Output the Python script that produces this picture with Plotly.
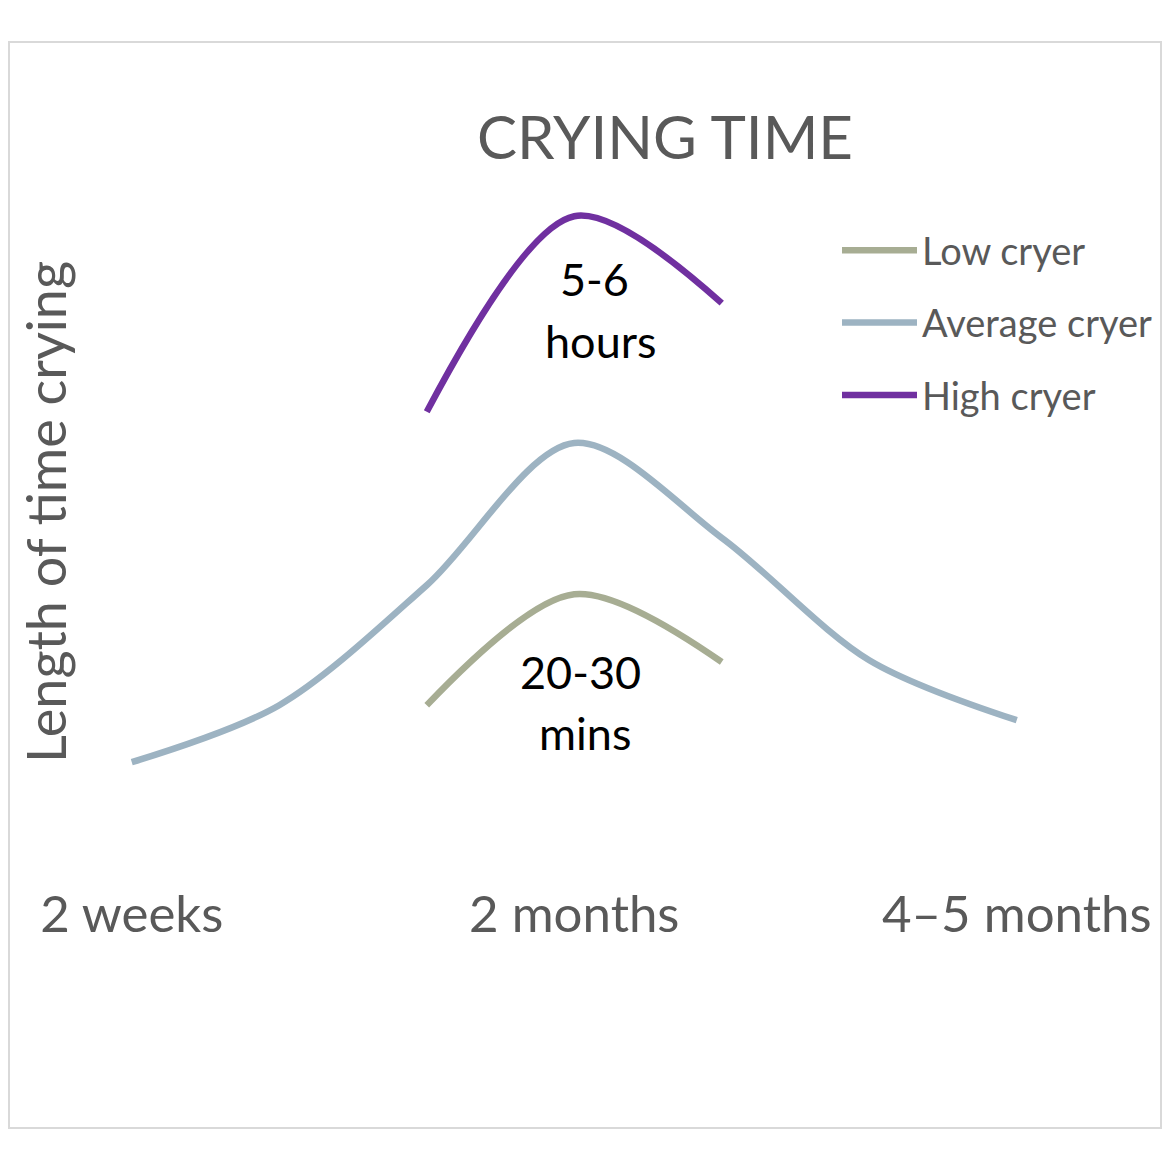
import plotly.graph_objects as go

# ---- data (arbitrary units) ----
x_steps = [0, 1, 2, 3, 4, 5, 6]
tick_positions = [0, 3, 6]
tick_labels = ["2 weeks", "2 months", "4–5 months"]

low_x = [2, 3, 4]
low_y = [1.58, 3.43, 2.30]

avg_x = [0, 1, 2, 3, 4, 5, 6]
avg_y = [0.63, 1.58, 3.58, 5.95, 4.37, 2.33, 1.33]

high_x = [2, 3, 4]
high_y = [6.47, 9.73, 8.28]

series_names = ["Low cryer", "Average cryer", "High cryer"]
series_colors = ["#a7ad93", "#9db3c2", "#7030a0"]

fig = go.Figure()
for name, xs, ys, col in zip(series_names, [low_x, avg_x, high_x], [low_y, avg_y, high_y], series_colors):
    fig.add_trace(go.Scatter(
        x=xs, y=ys, mode="lines", name=name, legendgroup=name,
        line=dict(color=col, width=6.5, shape="spline", smoothing=0.9),
    ))

label_font = dict(family="Lato, sans-serif", size=45, color="#000000")
fig.add_annotation(x=3.14, y=8.68, text="5-6", showarrow=False, font=label_font)
fig.add_annotation(x=3.18, y=7.65, text="hours", showarrow=False, font=label_font)
fig.add_annotation(x=3.04, y=2.14, text="20-30", showarrow=False, font=label_font)
fig.add_annotation(x=3.07, y=1.12, text="mins", showarrow=False, font=label_font)

# figure size chosen so the page (with its 8px body margin) fits the window
FW = FH = 1154
L, T, W, H = 50, 192, 1100, 600
PX_PER_STEP = 147.5
x_lo = -0.5
x_hi = x_lo + W / PX_PER_STEP

# y-axis title (rotated)
fig.add_annotation(xref="paper", yref="paper", x=(37 - L) / W, y=(T + H - 504) / H,
                   text="Length of time crying", textangle=-90, showarrow=False,
                   xanchor="center", yanchor="middle",
                   font=dict(family="Lato, sans-serif", size=54, color="#595959"))

# outer frame
fig.add_shape(type="rect", xref="paper", yref="paper",
              x0=(1 - L) / W, x1=(FW - 1 - L) / W,
              y0=(T + H - 1120) / H, y1=(T + H - 34) / H,
              line=dict(color="#d9d9d9", width=2), fillcolor="rgba(0,0,0,0)", layer="below")

fig.update_layout(
    width=FW, height=FH,
    margin=dict(l=L, r=FW - L - W, t=T, b=FH - T - H),
    paper_bgcolor="white", plot_bgcolor="white",
    title=dict(text="CRYING TIME", x=657 / FW, xanchor="center", y=1 - 130 / FH, yanchor="middle",
               font=dict(family="Lato, sans-serif", size=60, color="#595959")),
    xaxis=dict(range=[x_lo, x_hi], tickvals=tick_positions, ticktext=tick_labels,
               showgrid=False, zeroline=False, showline=False, ticks="",
               tickfont=dict(family="Lato, sans-serif", size=51, color="#595959"),
               ticklabelstandoff=80),
    yaxis=dict(range=[0, 10], showticklabels=False, showgrid=False, zeroline=False, showline=False),
    legend=dict(x=(837 - 8 - L) / W, y=(T + H - (219 - 8)) / H, xanchor="left", yanchor="top",
                font=dict(family="Lato, sans-serif", size=38, color="#595959"),
                tracegroupgap=20, bgcolor="rgba(0,0,0,0)", itemwidth=75),
    showlegend=True,
)

fig.write_html("out.html")
